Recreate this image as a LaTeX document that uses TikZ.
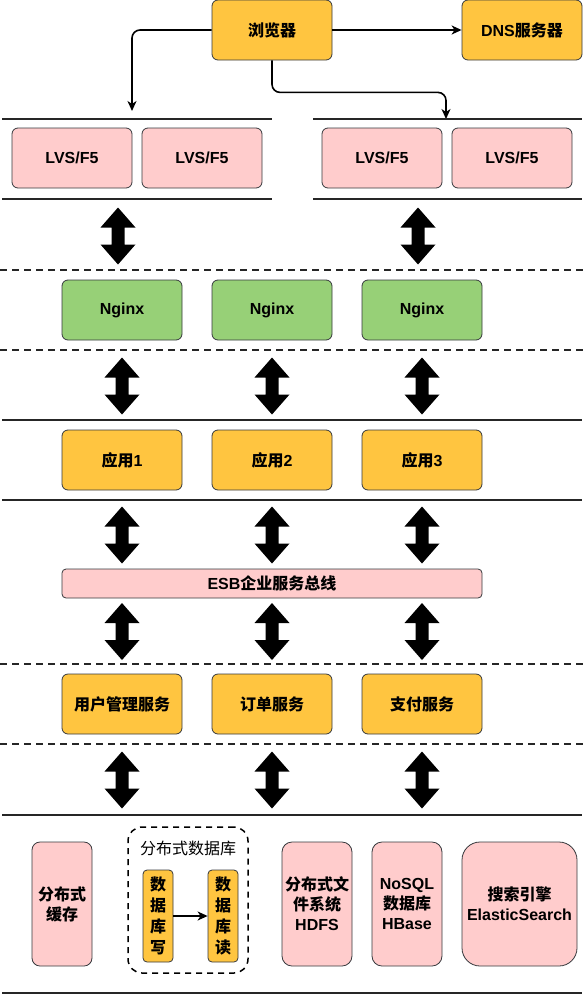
\documentclass[tikz,border=0pt]{standalone}
\usepackage{fontspec}
\setmainfont{Liberation Sans}
\newfontfamily\cjk{Noto Sans CJK SC}
\usetikzlibrary{arrows.meta}
\definecolor{orng}{HTML}{FFC540}
\definecolor{pnk}{HTML}{FFCCCC}
\definecolor{grn}{HTML}{97D077}
\definecolor{strk}{HTML}{36393D}
\tikzset{
  box/.style={draw=strk, line width=0.8pt, rounded corners=6pt, minimum width=120pt, minimum height=60pt, inner sep=0pt, align=center},
  obox/.style={box, fill=orng},
  pbox/.style={box, fill=pnk},
  gbox/.style={box, fill=grn},
  solidline/.style={line width=1.5pt, draw=black!85},
  dashline/.style={line width=1.5pt, draw=black!85, dash pattern=on 7pt off 5pt},
  conn/.style={line width=1.6pt, rounded corners=8pt, -{Stealth[length=10pt,width=9pt,inset=3pt]}},
  dbl/.pic={\fill[black] (0,-28.5) -- (17.5,-8.5) -- (6.5,-8.5) -- (6.5,8.5) -- (17.5,8.5) -- (0,28.5) -- (-17.5,8.5) -- (-6.5,8.5) -- (-6.5,-8.5) -- (-17.5,-8.5) -- cycle;}
}
\begin{document}
\begin{tikzpicture}[x=1pt,y=-1pt, font=\fontsize{16}{20}\selectfont\bfseries]
\useasboundingbox (0,0) rectangle (583,996);
% top
\node[obox] (br) at (272,30) {\cjk 浏览器};
\node[obox] (dns) at (522,30) {DNS{\cjk 服务器}};
\draw[conn] (br) -- (dns);
\coordinate (t1) at (132,111);
\coordinate (t2) at (446,119);
\draw[conn] (br.west) -| (t1);
\draw[conn] (br.south) -- ++(0,32) -| (t2);
% LVS layer
\draw[solidline] (2,119) -- (272,119);
\draw[solidline] (313,119) -- (582,119);
\draw[solidline] (2,199) -- (272,199);
\draw[solidline] (313,199) -- (582,199);
\node[pbox] (l1) at (72,158) {LVS/F5};
\node[pbox] (l2) at (202,158) {LVS/F5};
\node[pbox] (l3) at (382,158) {LVS/F5};
\node[pbox] (l4) at (512,158) {LVS/F5};
\pic at (118,236) {dbl};
\pic at (418,236) {dbl};
\draw[dashline] (0,270) -- (583,270);
% nginx
\node[gbox] (n1) at (122,310) {Nginx};
\node[gbox] (n2) at (272,310) {Nginx};
\node[gbox] (n3) at (422,310) {Nginx};
\draw[dashline] (0,350) -- (583,350);
\pic at (122,386) {dbl};
\pic at (272,386) {dbl};
\pic at (422,386) {dbl};
\draw[solidline] (2,420) -- (582,420);
% apps
\node[obox] (a1) at (122,460) {{\cjk 应用}1};
\node[obox] (a2) at (272,460) {{\cjk 应用}2};
\node[obox] (a3) at (422,460) {{\cjk 应用}3};
\draw[solidline] (2,500) -- (582,500);
\pic at (122,535) {dbl};
\pic at (272,535) {dbl};
\pic at (422,535) {dbl};
\node[pbox, minimum width=420pt, minimum height=29pt, rounded corners=4pt] (esb) at (272,583.5) {ESB{\cjk 企业服务总线}};
\pic at (122,631.5) {dbl};
\pic at (272,631.5) {dbl};
\pic at (422,631.5) {dbl};
\draw[dashline] (0,664) -- (583,664);
% services
\node[obox] (s1) at (122,704) {\cjk 用户管理服务};
\node[obox] (s2) at (272,704) {\cjk 订单服务};
\node[obox] (s3) at (422,704) {\cjk 支付服务};
\draw[dashline] (0,744) -- (583,744);
\pic at (122,780) {dbl};
\pic at (272,780) {dbl};
\pic at (422,780) {dbl};
\draw[solidline] (2,815) -- (582,815);
% storage
\node[pbox, minimum width=60pt, minimum height=124pt, rounded corners=8pt] (cache) at (62,904) {\cjk 分布式\\\cjk 缓存};
\node[draw=black, line width=1.5pt, dash pattern=on 6pt off 5pt, rounded corners=14pt, minimum width=120pt, minimum height=146pt] (grp) at (188,900) {};
\node[font=\fontsize{16}{20}\selectfont] (gt) at (188,848) {\cjk 分布式数据库};
\node[obox, minimum width=30pt, minimum height=92pt, rounded corners=4pt, font=\fontsize{16}{21}\selectfont\bfseries] (w) at (158,916) {\cjk 数\\\cjk 据\\\cjk 库\\\cjk 写};
\node[obox, minimum width=30pt, minimum height=92pt, rounded corners=4pt, font=\fontsize{16}{21}\selectfont\bfseries] (r) at (223,916) {\cjk 数\\\cjk 据\\\cjk 库\\\cjk 读};
\draw[line width=1.6pt, -{Stealth[length=10pt,width=9pt,inset=3pt]}] (w) -- (r);
\node[pbox, minimum width=70pt, minimum height=124pt, rounded corners=10pt] (hdfs) at (317,904) {\cjk 分布式文\\\cjk 件系统\\HDFS};
\node[pbox, minimum width=70pt, minimum height=124pt, rounded corners=10pt] (hbase) at (407,904) {NoSQL\\\cjk 数据库\\HBase};
\node[pbox, minimum width=115pt, minimum height=124pt, rounded corners=18pt] (es) at (519.5,904) {\cjk 搜索引擎\\ElasticSearch};
\draw[solidline] (2,993) -- (582,993);
\end{tikzpicture}
\end{document}
